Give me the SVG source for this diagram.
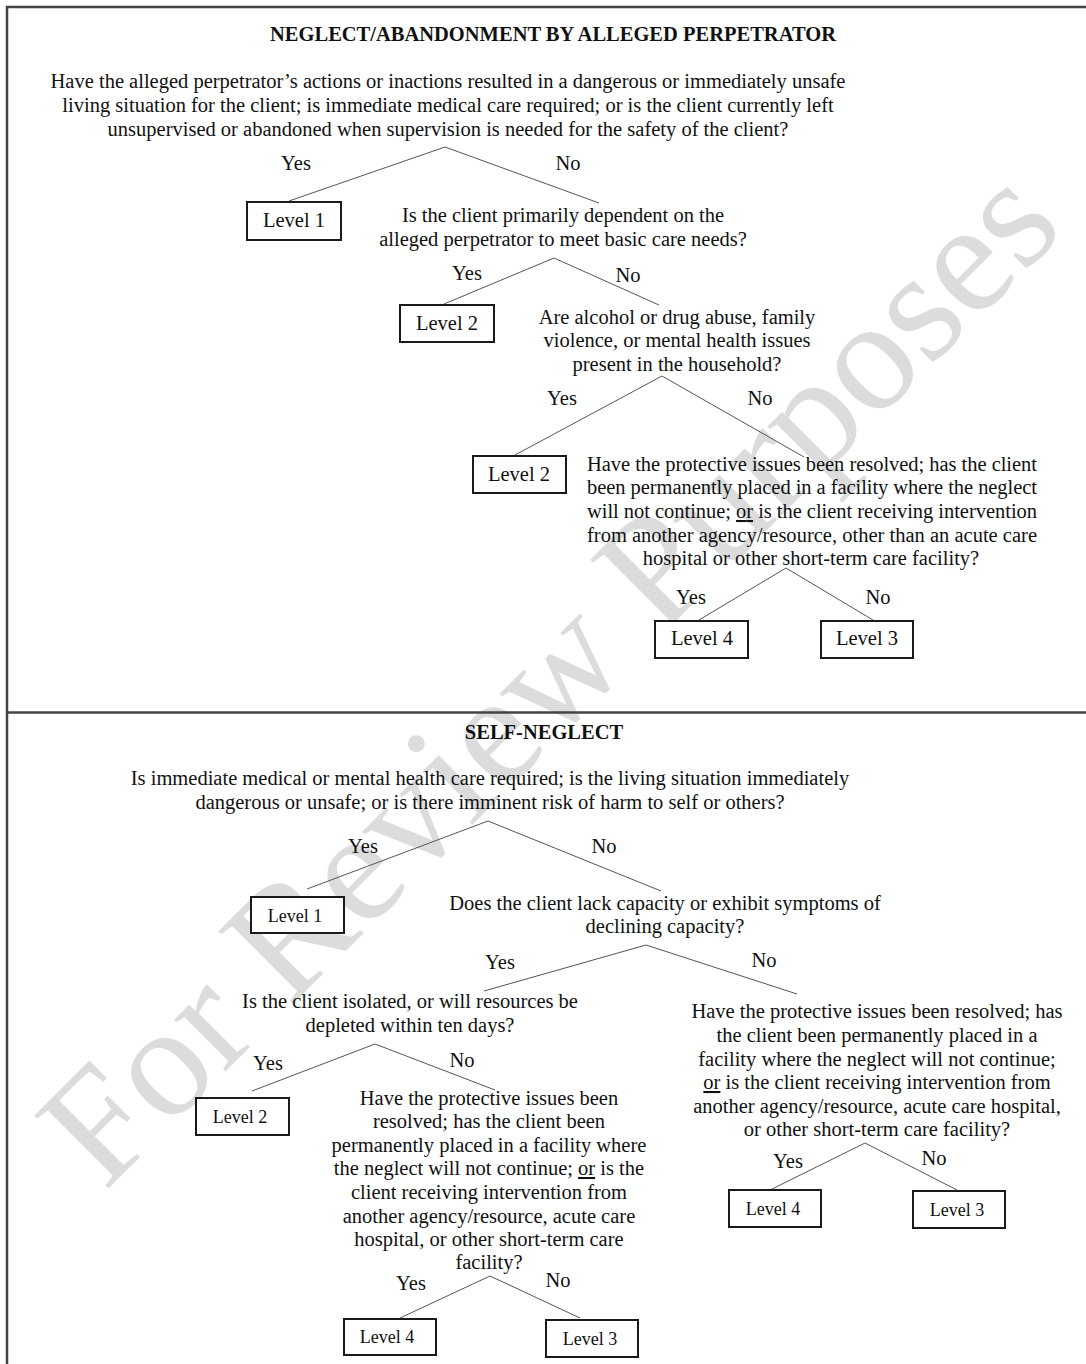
<svg xmlns="http://www.w3.org/2000/svg" width="1086" height="1364" viewBox="0 0 1086 1364">
  <style>
    .t{font-family:"Liberation Serif","Times New Roman",serif;font-size:20.5px;fill:#111;text-anchor:middle}
    .s{text-anchor:start}
    .h{font-weight:bold;font-size:20.5px}
    .lvs{font-size:18px}
    .box{fill:#fff;stroke:#1a1a1a;stroke-width:2}
    .edge{stroke:#555;stroke-width:1;fill:none}
    .frame{stroke:#444;stroke-width:2.5;fill:none}
    .wm{font-family:"Liberation Serif","Times New Roman",serif;font-size:159px;fill:#dcdcdc;text-anchor:middle}
    .u{text-decoration:underline}
  </style>

  <rect x="0" y="0" width="1086" height="1364" fill="#fff"/>

  <!-- watermark -->
  <text class="wm" transform="translate(548,674) rotate(-45)" y="53">For Review Purposes</text>

  <!-- outer frame and section divider -->
  <g id="frame">
    <line class="frame" x1="6" y1="7" x2="1086" y2="7"/>
    <line class="frame" x1="7" y1="6" x2="7" y2="1364"/>
    <line class="frame" x1="7" y1="712.5" x2="1086" y2="712.5"/>
  </g>

  <!-- connectors with their Yes/No labels -->
  <g id="connectors">
    <line class="edge" x1="445" y1="147" x2="289" y2="201"/>
    <line class="edge" x1="445" y1="147" x2="599" y2="203"/>
    <line class="edge" x1="554" y1="258" x2="444" y2="304"/>
    <line class="edge" x1="554" y1="258" x2="659" y2="305"/>
    <line class="edge" x1="662" y1="376" x2="515" y2="455"/>
    <line class="edge" x1="662" y1="376" x2="804" y2="457"/>
    <line class="edge" x1="786" y1="568" x2="699" y2="620"/>
    <line class="edge" x1="786" y1="568" x2="873" y2="620"/>

    <line class="edge" x1="488" y1="821" x2="307" y2="889"/>
    <line class="edge" x1="488" y1="821" x2="661" y2="891"/>
    <line class="edge" x1="646" y1="945" x2="484" y2="991"/>
    <line class="edge" x1="646" y1="945" x2="797" y2="994"/>
    <line class="edge" x1="375" y1="1044" x2="252" y2="1091"/>
    <line class="edge" x1="375" y1="1044" x2="495" y2="1090"/>
    <line class="edge" x1="490" y1="1276" x2="400" y2="1318"/>
    <line class="edge" x1="490" y1="1276" x2="580" y2="1318"/>
    <line class="edge" x1="865" y1="1143" x2="772" y2="1189"/>
    <line class="edge" x1="865" y1="1143" x2="957" y2="1190"/>

    <text class="t" x="296" y="170">Yes</text>
    <text class="t" x="568" y="170">No</text>
    <text class="t" x="467" y="280">Yes</text>
    <text class="t" x="628" y="282">No</text>
    <text class="t" x="562" y="405">Yes</text>
    <text class="t" x="760" y="405">No</text>
    <text class="t" x="691" y="604">Yes</text>
    <text class="t" x="878" y="604">No</text>

    <text class="t" x="363" y="853">Yes</text>
    <text class="t" x="604" y="853">No</text>
    <text class="t" x="500" y="969">Yes</text>
    <text class="t" x="764" y="967">No</text>
    <text class="t" x="268" y="1070">Yes</text>
    <text class="t" x="462" y="1067">No</text>
    <text class="t" x="411" y="1290">Yes</text>
    <text class="t" x="558" y="1287">No</text>
    <text class="t" x="788" y="1168">Yes</text>
    <text class="t" x="934" y="1165">No</text>
  </g>

  <!-- neglect / abandonment by alleged perpetrator -->
  <g id="title-neglect">
    <text class="t h" x="553" y="41">NEGLECT/ABANDONMENT BY ALLEGED PERPETRATOR</text>
  </g>
  <g id="n-danger">
    <text class="t" x="448" y="88">Have the alleged perpetrator’s actions or inactions resulted in a dangerous or immediately unsafe</text>
    <text class="t" x="448" y="112">living situation for the client; is immediate medical care required; or is the client currently left</text>
    <text class="t" x="448" y="136">unsupervised or abandoned when supervision is needed for the safety of the client?</text>
  </g>
  <g id="n-level1">
    <rect class="box" x="247" y="202" width="94" height="38"/>
    <text class="t" x="294" y="227">Level 1</text>
  </g>
  <g id="n-dependent">
    <text class="t" x="563" y="222">Is the client primarily dependent on the</text>
    <text class="t" x="563" y="246">alleged perpetrator to meet basic care needs?</text>
  </g>
  <g id="n-level2-dep">
    <rect class="box" x="400" y="305" width="94" height="37"/>
    <text class="t" x="447" y="330">Level 2</text>
  </g>
  <g id="n-household">
    <text class="t" x="677" y="324">Are alcohol or drug abuse, family</text>
    <text class="t" x="677" y="347">violence, or mental health issues</text>
    <text class="t" x="677" y="371">present in the household?</text>
  </g>
  <g id="n-level2-house">
    <rect class="box" x="473" y="456" width="93" height="37"/>
    <text class="t" x="519" y="481">Level 2</text>
  </g>
  <g id="n-resolved">
    <text class="t s" x="587" y="471" textLength="450" lengthAdjust="spacing">Have the protective issues been resolved; has the client</text>
    <text class="t s" x="587" y="494" textLength="450" lengthAdjust="spacing">been permanently placed in a facility where the neglect</text>
    <text class="t s" x="587" y="518" textLength="450" lengthAdjust="spacing">will not continue; <tspan class="u">or</tspan> is the client receiving intervention</text>
    <text class="t s" x="587" y="542" textLength="450" lengthAdjust="spacing">from another agency/resource, other than an acute care</text>
    <text class="t" x="811" y="565">hospital or other short-term care facility?</text>
  </g>
  <g id="n-level4-top">
    <rect class="box" x="655" y="621" width="93" height="37"/>
    <text class="t" x="702" y="645">Level 4</text>
  </g>
  <g id="n-level3-top">
    <rect class="box" x="821" y="621" width="92" height="37"/>
    <text class="t" x="867" y="645">Level 3</text>
  </g>

  <!-- self-neglect -->
  <g id="title-self">
    <text class="t h" x="544" y="739">SELF-NEGLECT</text>
  </g>
  <g id="s-danger">
    <text class="t" x="490" y="785">Is immediate medical or mental health care required; is the living situation immediately</text>
    <text class="t" x="490" y="809">dangerous or unsafe; or is there imminent risk of harm to self or others?</text>
  </g>
  <g id="s-level1">
    <rect class="box" x="251" y="897" width="93" height="36"/>
    <text class="t lvs" x="295" y="922">Level 1</text>
  </g>
  <g id="s-capacity">
    <text class="t" x="665" y="910">Does the client lack capacity or exhibit symptoms of</text>
    <text class="t" x="665" y="933">declining capacity?</text>
  </g>
  <g id="s-isolated">
    <text class="t" x="410" y="1008">Is the client isolated, or will resources be</text>
    <text class="t" x="410" y="1032">depleted within ten days?</text>
  </g>
  <g id="s-level2">
    <rect class="box" x="196" y="1098" width="93" height="37"/>
    <text class="t lvs" x="240" y="1123">Level 2</text>
  </g>
  <g id="s-resolved-left">
    <text class="t" x="489" y="1105">Have the protective issues been</text>
    <text class="t" x="489" y="1128">resolved; has the client been</text>
    <text class="t" x="489" y="1152">permanently placed in a facility where</text>
    <text class="t" x="489" y="1175">the neglect will not continue; <tspan class="u">or</tspan> is the</text>
    <text class="t" x="489" y="1199">client receiving intervention from</text>
    <text class="t" x="489" y="1223">another agency/resource, acute care</text>
    <text class="t" x="489" y="1246">hospital, or other short-term care</text>
    <text class="t" x="489" y="1269">facility?</text>
  </g>
  <g id="s-level4-left">
    <rect class="box" x="344" y="1319" width="92" height="36"/>
    <text class="t lvs" x="387" y="1343">Level 4</text>
  </g>
  <g id="s-level3-left">
    <rect class="box" x="546" y="1320" width="92" height="37"/>
    <text class="t lvs" x="590" y="1345">Level 3</text>
  </g>
  <g id="s-resolved-right">
    <text class="t" x="877" y="1018">Have the protective issues been resolved; has</text>
    <text class="t" x="877" y="1042">the client been permanently placed in a</text>
    <text class="t" x="877" y="1066">facility where the neglect will not continue;</text>
    <text class="t" x="877" y="1089"><tspan class="u">or</tspan> is the client receiving intervention from</text>
    <text class="t" x="877" y="1113">another agency/resource, acute care hospital,</text>
    <text class="t" x="877" y="1136">or other short-term care facility?</text>
  </g>
  <g id="s-level4-right">
    <rect class="box" x="729" y="1190" width="92" height="37"/>
    <text class="t lvs" x="773" y="1215">Level 4</text>
  </g>
  <g id="s-level3-right">
    <rect class="box" x="913" y="1191" width="92" height="37"/>
    <text class="t lvs" x="957" y="1216">Level 3</text>
  </g>
</svg>
